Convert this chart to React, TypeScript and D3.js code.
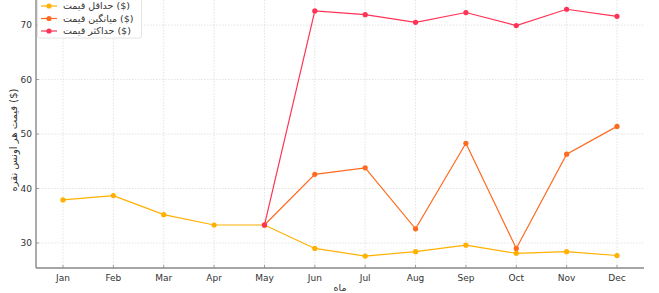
import React from "react";
import * as d3 from "d3";

const months = ["Jan", "Feb", "Mar", "Apr", "May", "Jun", "Jul", "Aug", "Sep", "Oct", "Nov", "Dec"];
const minPrice: (number | null)[] = [37.9, 38.7, 35.2, 33.3, 33.3, 29.0, 27.6, 28.4, 29.6, 28.1, 28.4, 27.7];
const meanPrice: (number | null)[] = [null, null, null, null, 33.3, 42.6, 43.8, 32.6, 48.3, 29.0, 46.3, 51.4];
const maxPrice: (number | null)[] = [null, null, null, null, 33.3, 72.6, 71.9, 70.5, 72.3, 69.9, 72.9, 71.6];
const yTicks = [30, 40, 50, 60, 70];
const seriesNames = ["حداقل قیمت ($)", "میانگین قیمت ($)", "حداکثر قیمت ($)"];
const seriesColors = ["#FFB000", "#FF6A1F", "#FF3355"];
const xLabel = "ماه";
const yLabel = "قیمت هر اونس نقره ($)";

const W = 659;
const H = 293;
const left = 36;
const right = 644;
const bottom = 268;
const top = 0;
const font = "DejaVu Sans, sans-serif";

export default function App() {
  const x = d3.scalePoint<string>().domain(months).range([left, right]).padding(0.536);
  const y = d3.scaleLinear().domain([25.41, 74.6]).range([bottom, top]);
  const series = [minPrice, meanPrice, maxPrice];
  const line = d3
    .line<number | null>()
    .defined((d) => d !== null)
    .x((_, i) => x(months[i]) as number)
    .y((d) => y(d as number));

  return (
    <svg width={W} height={H} style={{ position: "absolute", left: 0, top: 0, background: "#fff" }}>
      {/* grid */}
      {months.map((m) => (
        <line key={"gx" + m} x1={x(m)} x2={x(m)} y1={top} y2={bottom} stroke="#d9d9d9" strokeWidth={0.7} strokeDasharray="1.5,1.5" />
      ))}
      {yTicks.map((t) => (
        <line key={"gy" + t} x1={left} x2={right} y1={y(t)} y2={y(t)} stroke="#d9d9d9" strokeWidth={0.7} strokeDasharray="1.5,1.5" />
      ))}
      {/* series */}
      {series.map((s, si) => (
        <g key={"s" + si}>
          <path d={line(s) || ""} fill="none" stroke={seriesColors[si]} strokeWidth={1.2} />
          {s.map((v, i) =>
            v === null ? null : (
              <circle key={i} cx={x(months[i])} cy={y(v)} r={2.6} fill={seriesColors[si]} />
            )
          )}
        </g>
      ))}
      {/* spines */}
      <line x1={left} x2={left} y1={top} y2={bottom} stroke="#888" strokeWidth={1.4} />
      <line x1={left} x2={right} y1={bottom} y2={bottom} stroke="#888" strokeWidth={1.4} />
      {/* x ticks */}
      {months.map((m) => (
        <g key={"tx" + m}>
          <line x1={x(m)} x2={x(m)} y1={bottom} y2={bottom - 3} stroke="#888" strokeWidth={0.8} />
          <text x={x(m)} y={bottom + 13} textAnchor="middle" fontFamily={font} fontSize={9} fill="#333">
            {m}
          </text>
        </g>
      ))}
      {/* y ticks */}
      {yTicks.map((t) => (
        <g key={"ty" + t}>
          <line x1={left} x2={left + 3} y1={y(t)} y2={y(t)} stroke="#888" strokeWidth={0.8} />
          <text x={left - 4} y={y(t) + 3.2} textAnchor="end" fontFamily={font} fontSize={9} fill="#333">
            {t}
          </text>
        </g>
      ))}
      {/* axis labels */}
      <text x={(left + right) / 2} y={290.5} textAnchor="middle" fontFamily={font} fontSize={9.5} fill="#333">
        {xLabel}
      </text>
      <text
        transform={`translate(17,${(top + bottom) / 2 + 6}) rotate(-90)`}
        textAnchor="middle"
        fontFamily={font}
        fontSize={10}
        fill="#333"
      >
        {yLabel}
      </text>
      {/* legend */}
      <rect x={37.5} y={-3} width={104} height={41} rx={2} fill="#fff" fillOpacity={0.85} stroke="#ddd" strokeWidth={0.8} />
      {seriesNames.map((n, i) => {
        const ly = 6 + i * 12.5;
        return (
          <g key={"l" + i}>
            <line x1={41} x2={57} y1={ly} y2={ly} stroke={seriesColors[i]} strokeWidth={1.2} />
            <circle cx={49} cy={ly} r={2.6} fill={seriesColors[i]} />
            <text x={63} y={ly + 3.3} fontFamily={font} fontSize={9.5} fill="#333">
              {n}
            </text>
          </g>
        );
      })}
    </svg>
  );
}
